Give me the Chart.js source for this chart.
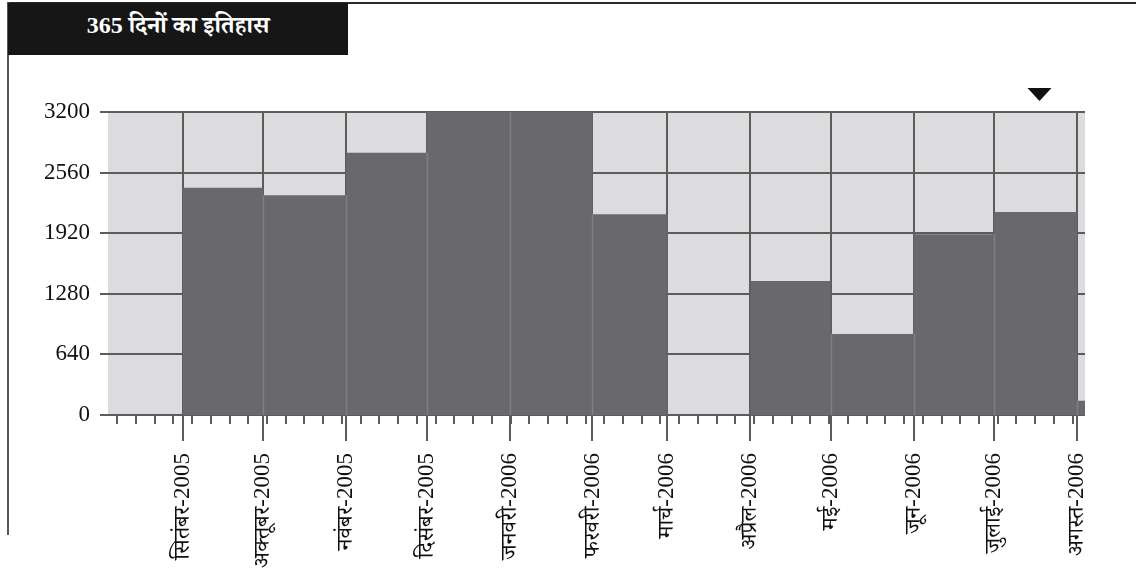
<!DOCTYPE html>
<html>
<head>
<meta charset="utf-8">
<script src="https://cdn.jsdelivr.net/npm/chart.js@4.4.1/dist/chart.umd.min.js"></script>
<style>
  html, body { margin: 0; padding: 0; background: #fff; }
  body { width: 1136px; height: 568px; position: relative; overflow: hidden; }
  #wrap { position: absolute; left: 0; top: 0; width: 1136px; height: 568px; }
  #topline { position: absolute; left: 8px; top: 2px; width: 1128px; height: 2px; background: #2a2a2a; }
  #leftline { position: absolute; left: 7px; top: 2px; width: 2px; height: 533px; background: #555; }
  #title { position: absolute; left: 8px; top: 3px; width: 340px; height: 52px; background: #161616;
           color: #fff; font: bold 24px "Liberation Serif", "Noto Serif Devanagari", serif;
           display: flex; align-items: center; justify-content: center; }
</style>
</head>
<body>
<div id="wrap"><canvas id="c" width="1136" height="568"></canvas></div>
<div id="topline"></div>
<div id="leftline"></div>
<div id="title">365 दिनों का इतिहास</div>
<script>
// ---- data ----
const monthLabels = ['सितंबर-2005','अक्तूबर-2005','नवंबर-2005','दिसंबर-2005','जनवरी-2006','फरवरी-2006',
                     'मार्च-2006','अप्रैल-2006','मई-2006','जून-2006','जुलाई-2006','अगस्त-2006'];
// day offset (from the left edge of the 365-day window) at which each month starts
const monthStartDay = [28, 58, 89, 119, 150, 181, 209, 240, 270, 301, 331, 362];
const monthValues  = [2400, 2320, 2770, 3200, 3200, 2120, 0, 1415, 855, 1910, 2145, 150];
const windowDays = 365;
const leadValue = 0;            // partial August 2005 before the first month tick
const yTicks = [0, 640, 1280, 1920, 2560, 3200];
const markerDay = 348;          // position of the ▼ marker
const minorTickStart = 3.4, minorTickStep = 7;

// ---- build stepped series ----
const pts = [{x: 0, y: leadValue}];
monthStartDay.forEach((d, i) => pts.push({x: d, y: monthValues[i]}));
pts.push({x: windowDays, y: monthValues[monthValues.length - 1]});

const GRID = '#5c5c5c';
const serif = '"Liberation Serif", "Noto Serif Devanagari", serif';

const bgPlugin = {
  id: 'bg',
  beforeDraw(chart) {
    const {ctx, chartArea: a} = chart;
    ctx.save();
    ctx.fillStyle = '#dcdcde';
    ctx.fillRect(a.left, a.top, a.right - a.left, a.bottom - a.top);
    ctx.restore();
  },
  afterDatasetsDraw(chart) {
    const {ctx, scales} = chart;
    const xs = scales.x, ys = scales.y;
    ctx.save();
    ctx.strokeStyle = '#808084';
    ctx.lineWidth = 1.5;
    ctx.beginPath();
    monthStartDay.forEach((d, i) => {
      const prev = i === 0 ? leadValue : monthValues[i - 1];
      const h = Math.min(prev, monthValues[i]);
      if (h <= 0) return;
      const px = Math.round(xs.getPixelForValue(d)) + 0.5;
      ctx.moveTo(px, ys.getPixelForValue(0));
      ctx.lineTo(px, ys.getPixelForValue(h));
    });
    ctx.stroke();
    ctx.restore();
  },
  afterDraw(chart) {
    const {ctx, chartArea: a, scales} = chart;
    const xs = scales.x;
    ctx.save();
    // minor (weekly) ticks
    ctx.strokeStyle = GRID;
    ctx.lineWidth = 2;
    ctx.beginPath();
    for (let d = minorTickStart; d < windowDays; d += minorTickStep) {
      const px = Math.round(xs.getPixelForValue(d));
      ctx.moveTo(px, a.bottom);
      ctx.lineTo(px, a.bottom + 9);
    }
    ctx.stroke();
    // marker triangle
    const mx = xs.getPixelForValue(markerDay);
    const my = a.top - 24;
    ctx.fillStyle = '#111';
    ctx.beginPath();
    ctx.moveTo(mx - 12, my);
    ctx.lineTo(mx + 12, my);
    ctx.lineTo(mx, my + 13);
    ctx.closePath();
    ctx.fill();
    ctx.restore();
  }
};

new Chart(document.getElementById('c'), {
  type: 'line',
  data: {
    datasets: [{
      data: pts,
      stepped: true,
      fill: 'origin',
      backgroundColor: '#69696d',
      borderWidth: 0,
      pointRadius: 0,
      tension: 0
    }]
  },
  options: {
    responsive: false,
    animation: false,
    events: [],
    layout: { padding: { top: 112, right: 51, left: 0, bottom: 0 } },
    plugins: { legend: { display: false }, tooltip: { enabled: false } },
    scales: {
      x: {
        type: 'linear',
        min: 0, max: windowDays,
        afterBuildTicks(axis) { axis.ticks = monthStartDay.map(v => ({value: v})); },
        afterFit(axis) { axis.height = 153; },
        ticks: {
          autoSkip: false, maxRotation: 90, minRotation: 90,
          padding: 12, color: '#111',
          font: { family: serif, size: 23 },
          callback(value, index) { return monthLabels[index]; }
        },
        grid: { color: GRID, lineWidth: 2, tickLength: 26, tickColor: GRID },
        border: { display: false }
      },
      y: {
        min: 0, max: 3200,
        afterBuildTicks(axis) { axis.ticks = yTicks.map(v => ({value: v})); },
        afterFit(axis) { axis.width = 108; },
        ticks: {
          padding: 10, color: '#111', font: { family: serif, size: 23 },
          callback(value) { return String(value); }
        },
        grid: { color: GRID, lineWidth: 2, tickLength: 8, tickColor: GRID },
        border: { display: false }
      }
    }
  },
  plugins: [bgPlugin]
});
</script>
</body>
</html>
